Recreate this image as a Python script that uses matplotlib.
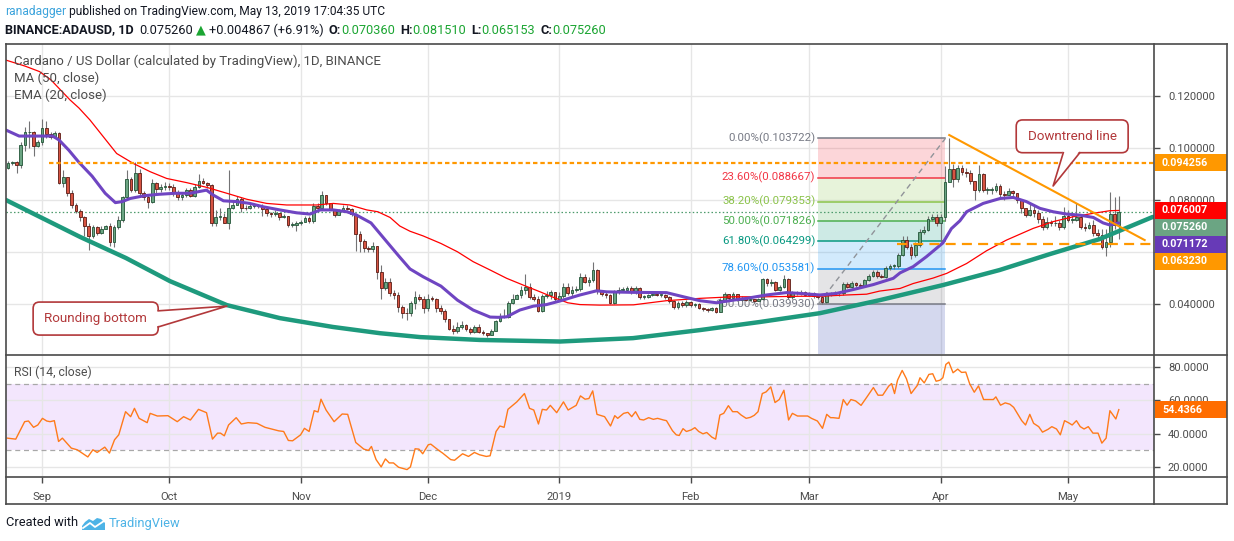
import numpy as np
import matplotlib
matplotlib.use('Agg')
import matplotlib.pyplot as plt
import matplotlib.transforms as mtransforms
from matplotlib.lines import Line2D
from matplotlib.patches import Rectangle, FancyBboxPatch, Polygon

W, H = 1234, 541
plt.rcParams['font.family'] = ['Roboto', 'DejaVu Sans']

# x unit = days, day 0 = 1 Sep 2018
first_day = -8
first_open = 0.0924

close = [
    .0941, .0945, .0933, .1012, .1060, .1060, .1009, .1024, .1076, .1053,
    .1044, .1056, .0864, .0887, .0828, .0780, .0759, .0736, .0701, .0663,
    .0697, .0674, .0687, .0700, .0637, .0697, .0723, .0810, .0881, .0838,
    .0905, .0826, .0813, .0794, .0864, .0841, .0851, .0855, .0851, .0826,
    .0810, .0819, .0839, .0817, .0852, .0873, .0867, .0856, .0710, .0736,
    .0736, .0712, .0768, .0781, .0803, .0769, .0768, .0777, .0780, .0778,
    .0765, .0751, .0746, .0749, .0735, .0738, .0703, .0703, .0710, .0717,
    .0732, .0719, .0777, .0769, .0820, .0788, .0767, .0744, .0756, .0771,
    .0767, .0746, .0669, .0644, .0615, .0612, .0623, .0524, .0460, .0486,
    .0441, .0435, .0387, .0367, .0364, .0403, .0428, .0421, .0384, .0421,
    .0419, .0384, .0374, .0341, .0306, .0297, .0313, .0319, .0303, .0294,
    .0313, .0294, .0287, .0281, .0296, .0335, .0354, .0350, .0403, .0421,
    .0435, .0454, .0467, .0429, .0421, .0374, .0431, .0435, .0446, .0418,
    .0432, .0467, .0441, .0454, .0459, .0505, .0486, .0492, .0531, .0449,
    .0440, .0434, .0405, .0449, .0454, .0454, .0460, .0449, .0462, .0428,
    .0428, .0434, .0438, .0434, .0434, .0428, .0413, .0387, .0403, .0396,
    .0408, .0396, .0400, .0384, .0381, .0377, .0384, .0371, .0415, .0438,
    .0422, .0438, .0415, .0422, .0415, .0418, .0412, .0418, .0495, .0482,
    .0483, .0456, .0464, .0495, .0428, .0444, .0444, .0447, .0435, .0441,
    .0432, .0426, .0409, .0441, .0435, .0444, .0441, .0477, .0467, .0482,
    .0473, .0469, .0492, .0508, .0524, .0508, .0505, .0537, .0546, .0546,
    .0588, .0646, .0621, .0588, .0627, .0678, .0685, .0726, .0736, .0710,
    .0736, .0870, .0918, .0880, .0922, .0909, .0905, .0874, .0838, .0900,
    .0838, .0838, .0838, .0854, .0823, .0819, .0836, .0826, .0800, .0768,
    .0742, .0761, .0749, .0726, .0695, .0717, .0710, .0713, .0697, .0738,
    .0723, .0723, .0736, .0697, .0691, .0704, .0672, .0665, .0621, .0640,
    .0746, .0704, .07526,
]
high = [
    .0950, .0950, .0950, .1025, .1082, .1105, .1065, .1030, .1110, .1105,
    .1060, .1065, .1060, .0915, .0890, .0840, .0790, .0765, .0740, .0710,
    .0705, .0700, .0700, .0705, .0710, .0705, .0740, .0815, .0915, .0890,
    .0947, .0920, .0835, .0820, .0880, .0870, .0860, .0870, .0865, .0860,
    .0840, .0830, .0845, .0845, .0860, .0900, .0885, .0870, .0860, .0760,
    .0770, .0750, .0915, .0800, .0815, .0810, .0780, .0785, .0790, .0785,
    .0785, .0770, .0755, .0760, .0750, .0745, .0740, .0715, .0720, .0725,
    .0740, .0740, .0790, .0790, .0835, .0820, .0790, .0765, .0765, .0780,
    .0780, .0770, .0750, .0680, .0650, .0625, .0640, .0625, .0550, .0500,
    .0500, .0455, .0445, .0395, .0385, .0410, .0450, .0440, .0430, .0440,
    .0430, .0425, .0395, .0380, .0340, .0320, .0330, .0335, .0325, .0310,
    .0320, .0325, .0300, .0290, .0305, .0340, .0365, .0380, .0410, .0440,
    .0440, .0470, .0515, .0480, .0440, .0430, .0440, .0450, .0455, .0445,
    .0445, .0480, .0480, .0470, .0470, .0520, .0515, .0505, .0563, .0535,
    .0455, .0450, .0440, .0455, .0465, .0465, .0470, .0470, .0470, .0465,
    .0435, .0440, .0445, .0445, .0440, .0440, .0430, .0415, .0410, .0410,
    .0415, .0410, .0405, .0405, .0390, .0385, .0390, .0390, .0425, .0445,
    .0440, .0445, .0440, .0430, .0425, .0425, .0420, .0425, .0500, .0500,
    .0495, .0490, .0475, .0510, .0500, .0450, .0450, .0455, .0450, .0445,
    .0445, .0435, .0430, .0445, .0445, .0450, .0445, .0485, .0485, .0490,
    .0485, .0480, .0495, .0515, .0530, .0530, .0515, .0545, .0555, .0555,
    .0595, .0660, .0660, .0630, .0640, .0690, .0700, .0740, .0745, .0745,
    .0745, .0930, .1037, .0940, .0935, .0935, .0925, .0915, .0870, .0935,
    .0905, .0850, .0850, .0865, .0860, .0835, .0845, .0840, .0815, .0805,
    .0770, .0790, .0785, .0760, .0740, .0735, .0725, .0740, .0725, .0775,
    .0760, .0745, .0790, .0745, .0710, .0715, .0725, .0690, .0690, .0690,
    .0830, .0810, .0815,
]
low = [
    .0920, .0935, .0905, .0925, .0990, .1000, .0970, .1005, .1010, .1040,
    .1035, .1040, .0860, .0850, .0815, .0770, .0750, .0720, .0660, .0608,
    .0655, .0665, .0670, .0690, .0625, .0621, .0690, .0715, .0800, .0830,
    .0830, .0820, .0800, .0770, .0790, .0820, .0830, .0840, .0840, .0815,
    .0800, .0800, .0810, .0810, .0810, .0845, .0860, .0845, .0700, .0700,
    .0725, .0710, .0690, .0765, .0780, .0755, .0760, .0765, .0770, .0770,
    .0740, .0740, .0735, .0740, .0725, .0730, .0695, .0695, .0680, .0705,
    .0715, .0710, .0710, .0760, .0765, .0780, .0760, .0735, .0745, .0755,
    .0760, .0740, .0605, .0600, .0600, .0600, .0600, .0495, .0420, .0455,
    .0430, .0420, .0370, .0345, .0340, .0355, .0380, .0410, .0365, .0375,
    .0410, .0370, .0360, .0330, .0300, .0285, .0290, .0305, .0295, .0285,
    .0290, .0290, .0280, .0275, .0280, .0295, .0330, .0345, .0345, .0400,
    .0420, .0425, .0440, .0420, .0410, .0370, .0370, .0425, .0420, .0410,
    .0420, .0425, .0435, .0430, .0445, .0450, .0480, .0470, .0485, .0440,
    .0430, .0425, .0400, .0400, .0440, .0445, .0450, .0440, .0440, .0420,
    .0420, .0425, .0430, .0430, .0428, .0420, .0405, .0380, .0380, .0390,
    .0390, .0390, .0390, .0380, .0375, .0370, .0375, .0365, .0368, .0410,
    .0415, .0415, .0410, .0410, .0410, .0410, .0405, .0410, .0415, .0470,
    .0470, .0450, .0450, .0460, .0420, .0420, .0435, .0435, .0430, .0430,
    .0425, .0420, .0400, .0405, .0430, .0435, .0430, .0435, .0460, .0460,
    .0465, .0460, .0465, .0490, .0505, .0500, .0500, .0500, .0530, .0535,
    .0540, .0585, .0610, .0575, .0580, .0620, .0670, .0680, .0720, .0700,
    .0640, .0720, .0870, .0850, .0870, .0895, .0890, .0860, .0800, .0830,
    .0830, .0825, .0825, .0830, .0810, .0800, .0820, .0815, .0790, .0750,
    .0735, .0740, .0735, .0710, .0685, .0690, .0700, .0700, .0685, .0690,
    .0715, .0710, .0720, .0690, .0680, .0690, .0660, .0650, .0610, .0585,
    .0620, .0690, .0652,
]

# indicator lines (day, value)
ema20_day = [-8.5, -5.4, -0.6, 2.5, 4, 6.3, 8.6, 11.8, 14.9, 17.3, 18.9, 20.8, 24.3, 27.5,
             31.4, 34.9, 38.8, 40.4, 42.8, 45.9, 49, 52.2, 56.1, 60, 63.2, 65.6, 68.7, 71.9,
             74.2, 77.6, 81.3, 84.4, 86.8, 89.9, 94.1, 98, 101.7, 105.7, 107.6, 109.6, 112.7,
             115.9, 119, 122.2, 126.9, 130.8, 133.2, 139.5, 147.3, 151.3, 155.2, 159.1, 163,
             166.2, 170.9, 175.6, 178.8, 183.5, 187.4, 191.4, 196.1, 200.8, 202.4, 205.5,
             208.6, 212.5, 214.5, 216.5, 218.1, 222, 226, 229.1, 232.2, 235.4, 238.5, 241.7,
             244.8, 248, 250.3, 251.9, 254]
ema20_val = [.1069, .1046, .1046, .1046, .1031, .0992, .0947, .0892, .0826, .0790, .0794, .0806,
             .0817, .0822, .0826, .0826, .0838, .0819, .0797, .0794, .0787, .0774, .0762, .0751,
             .0746, .0762, .0762, .0755, .0742, .0712, .0640, .0580, .0535, .0505, .0469, .0415,
             .0377, .0350, .0349, .0351, .0377, .0392, .0398, .0412, .0435, .0451, .0447, .0445,
             .0444, .0428, .0413, .0405, .0415, .0422, .0435, .0444, .0441, .0435, .0441, .0456,
             .0475, .0499, .0520, .0544, .0582, .0635, .0690, .0720, .0755, .0787, .0806, .0810,
             .0794, .0768, .0755, .0746, .0742, .0733, .0712, .0704, .0712]

ma50_day = [-8.5, -4, -0.6, 2.1, 6.6, 8.7, 11.3, 17.6, 21.5, 25.5, 29.4, 34.1, 38.8, 43.6, 48.3,
            53, 57.7, 64.8, 68.7, 72.6, 76.6, 79.2, 82.1, 84.4, 86.8, 89.9, 94.1, 98, 101.7,
            105.7, 109.6, 113.5, 117.5, 120.6, 124, 126.9, 131.6, 139.5, 147.3, 155.2, 163,
            170.9, 178.8, 183.6, 189.8, 194.5, 197.6, 202.4, 205.5, 210.2, 213.4, 218.1, 222.8,
            227.5, 233.8, 238.5, 243.3, 248, 251.9, 254]
ma50_val = [.1338, .1315, .1294, .1262, .1185, .1154, .1108, .0979, .0941, .0909, .0883, .0867,
            .0849, .0826, .0803, .0787, .0781, .0781, .0787, .0781, .0762, .0755, .0733, .0700,
            .0680, .0662, .0633, .0601, .0563, .0531, .0499, .0473, .0447, .0426, .0405, .0398,
            .0396, .0397, .0413, .0422, .0428, .0428, .0430, .0430, .0435, .0438, .0450, .0460,
            .0479, .0500, .0518, .0556, .0605, .0646, .0691, .0717, .0736, .0749, .0759, .0760]

rsi_day = [-8.2, -6.2, -4.1, -3.2, -2.0, -1.0, 0.1, 1.1, 1.9, 2.9, 3.9, 4.8, 6.9, 8.3, 10.8, 12.0,
           13.0, 14.8, 15.9, 17.1, 18.1, 19.7, 20.9, 21.8, 22.9, 24.8, 25.5, 27.2, 29.7, 31.9,
           33.4, 35.0, 36.9, 38.8, 40.2, 41.4, 42.1, 43.0, 44.0, 45.8, 47.0, 48.6, 50.7, 52.6,
           54.4, 55.8, 57.0, 58.1, 59.1, 61.0, 61.9, 63.0, 64.2, 65.1, 65.8, 67.0, 68.9, 70.8,
           72.1, 74.0, 75.9, 77.0, 77.7, 78.8, 80.0, 81.0, 81.9, 82.9, 84.1, 86.1, 86.9, 88.0,
           88.9, 89.8, 91.1, 91.7, 93.6, 94.5, 96.4, 97.3, 99.2, 100.6, 102.0, 103.2, 104.8,
           105.7, 107.1, 108.0, 109.0, 109.9, 112.0, 113.8, 115.0, 116.0, 117.1, 118.0, 119.0,
           119.9, 121.4, 123.0, 124.1, 126.0, 127.0, 128.1, 129.0, 129.9, 130.9, 132.7, 134.1,
           135.1, 135.8, 137.2, 138.2, 139.1, 140.0, 141.0, 141.9, 143.1, 144.2, 145.2, 146.6,
           147.3, 148.7, 149.6, 150.3, 151.2, 152.0, 153.1, 154.0, 154.9, 155.9, 156.8, 158.0,
           158.9, 159.9, 160.8, 161.9, 162.9, 164.0, 164.9, 166.1, 167.1, 168.0, 168.9, 169.9,
           170.8, 171.9, 172.9, 173.9, 175.0, 176.1, 177.0, 178.2, 179.5, 180.6, 181.5, 182.9,
           184.1, 185.1, 186.0, 186.6, 188.0, 189.0, 189.9, 190.8, 191.9, 193.2, 194.6, 196.1,
           197.2, 198.3, 199.7, 200.4, 201.1, 201.8, 202.9, 203.9, 205.0, 206.5, 207.1, 208.1,
           209.2, 210.1, 210.9, 211.8, 212.5, 213.2, 213.9, 214.9, 216.0, 216.9, 217.9, 218.8,
           219.9, 220.9, 222.1, 223.3, 224.4, 225.0, 226.1, 227.2, 228.3, 229.2, 230.2, 231.1,
           232.0, 233.0, 233.9, 235.1, 236.0, 237.3, 238.2, 239.3, 240.2, 241.2, 242.1, 243.0,
           244.0, 244.9, 245.8, 246.8, 247.9, 249.1, 250.0, 251.0, 251.9, 253.3, 254.0]
rsi_val = [37.3, 36.7, 47.2, 47.6, 43.8, 45.2, 49.2, 47.6, 47.2, 47.8, 35.3, 37.3, 31.3, 30.3, 26.0,
           30.3, 28.7, 31.9, 28.3, 36.3, 39.3, 53.2, 50.2, 55.2, 49.2, 46.6, 52.2, 50.6, 50.8, 47.2,
           50.2, 48.2, 54.6, 52.6, 36.7, 40.3, 40.3, 38.7, 45.2, 49.6, 45.8, 46.6, 46.2, 43.8, 42.6,
           41.7, 41.3, 35.9, 35.7, 39.3, 43.2, 41.3, 53.8, 53.0, 60.7, 54.2, 47.2, 51.8, 51.6, 34.7,
           30.7, 29.9, 32.3, 24.4, 20.0, 24.8, 22.4, 22.4, 19.8, 18.4, 20.0, 30.9, 30.7, 27.9, 33.3,
           33.7, 29.9, 28.3, 24.4, 24.0, 27.9, 26.3, 28.7, 27.3, 26.3, 26.7, 41.3, 44.6, 43.8, 54.6,
           59.1, 64.1, 55.2, 54.2, 45.8, 54.6, 54.2, 57.0, 52.6, 59.1, 54.2, 57.0, 62.7, 60.7, 61.1,
           65.7, 51.6, 50.2, 44.6, 50.8, 49.2, 52.2, 52.8, 50.2, 53.2, 48.6, 48.2, 49.6, 48.6, 49.2,
           48.2, 47.8, 41.8, 39.3, 38.9, 43.0, 41.3, 42.2, 43.6, 41.3, 39.9, 40.7, 37.9, 36.7, 51.2,
           52.2, 56.8, 53.2, 53.2, 51.2, 49.2, 49.8, 51.0, 53.2, 64.1, 65.1, 68.1, 58.7, 60.5, 66.1,
           48.2, 52.2, 50.6, 50.6, 50.6, 49.2, 47.6, 43.2, 51.6, 49.6, 49.6, 49.2, 60.5, 57.1, 60.5,
           59.7, 57.0, 62.1, 67.7, 63.1, 63.1, 68.5, 70.1, 64.1, 72.1, 78.0, 73.0, 64.1, 69.1, 73.6,
           70.5, 75.6, 76.0, 71.5, 72.1, 73.6, 81.6, 83.0, 76.6, 78.8, 76.8, 77.0, 70.1, 64.9, 68.7,
           60.5, 60.5, 60.5, 62.1, 57.1, 58.5, 57.7, 55.8, 51.6, 47.8, 45.2, 51.6, 46.2, 44.2, 40.9,
           42.6, 44.2, 42.8, 39.3, 47.8, 46.6, 45.2, 47.8, 44.2, 42.8, 44.2, 40.3, 40.3, 34.3, 37.3,
           53.8, 48.8, 54.4366]

# drawings
bottom_day = [-8.5, 0, 9.0, 19.8, 30.2, 43.6, 56.1, 68.6, 79.7, 89.2, 103.3, 122.2, 139.4,
              155.2, 169.3, 183.5, 197.6, 212.5, 225.9, 237.7, 249.5, 262]
bottom_val = [.0800, .0731, .0658, .0577, .0488, .0396, .0346, .0312, .0288, .0273, .0262,
              .0256, .0269, .0300, .0331, .0365, .0415, .0473, .0531, .0592, .0650, .0735]
downtrend_day = [214, 260.1]
downtrend_val = [.1050, .0646]
resistance = 0.094256
resistance_from = 1.7
support = 0.063230
support_from = 201.6

fib_day = [183.1, 213.1]
fib_pct = ['0.00%', '23.60%', '38.20%', '50.00%', '61.80%', '78.60%', '100.00%']
fib_price = [0.103722, 0.088667, 0.079353, 0.071826, 0.064299, 0.053581, 0.039930]
fib_color = ['#787B86', '#F23645', '#8BC34A', '#4CAF50', '#089981', '#2196F3', '#787B86']

month_day = [0, 30, 61, 91, 122, 153, 181, 212, 242]
month_lbl = ['Sep', 'Oct', 'Nov', 'Dec', '2019', 'Feb', 'Mar', 'Apr', 'May']

last_price = 0.075260
last_ma50 = 0.076007
last_ema20 = 0.071172
last_rsi = 54.4366

# ---------------------------------------------------------------
UP, DOWN = '#6BA583', '#D75442'
UP_EDGE, DOWN_EDGE = '#225437', '#5B1A13'
WICK = '#737375'
GRID = '#E6E6E6'
FRAME = '#4A4A4A'
TXT = '#4D4D4D'
ORANGE = '#FF9800'

fig = plt.figure(figsize=(W / 100, H / 100), dpi=100, facecolor='white')
renderer = fig.canvas.get_renderer()

def fx(x):
    return x / W

def fy(y):
    return 1 - y / H

def width_at10(s, weight='normal'):
    t = fig.text(0, 0, s, fontsize=10, fontweight=weight)
    w = t.get_window_extent(renderer=renderer).width
    t.remove()
    return w

def fit(s, target, weight='normal'):
    # font size that gives the text the width it has in the reference
    return 10 * target / width_at10(s, weight)

FS_HEAD = fit('ranadagger published on TradingView.com, May 13, 2019 17:04:35 UTC', 380)
FS_LEG = fit('Cardano / US Dollar (calculated by TradingView), 1D, BINANCE', 366)
FS_TICK = fit('0.120000', 47)
FS_FIB = fit('23.60%(0.088667)', 93)
FS_BOX = fit('0.094256', 46, 'bold')
FS_CALL = fit('Rounding bottom', 103)
FS_RSI = fit('RSI (14, close)', 78)
FS_FOOT = fit('Created with', 72)

ax = fig.add_axes([fx(6), fy(354), (1154 - 6) / W, (354 - 44) / H])
ar = fig.add_axes([fx(6), fy(477), (1154 - 6) / W, (477 - 355) / H])
XLIM = (-8.5, 262.3)
ax.set_xlim(*XLIM)
ax.set_ylim(0.0208, 0.1400)
ar.set_xlim(*XLIM)
ar.set_ylim(13.94, 87.27)
px_per_price = 310 / (0.1400 - 0.0208)

for a in (ax, ar):
    for s in a.spines.values():
        s.set_visible(False)
    a.set_xticks(month_day)
    a.grid(True, color=GRID, lw=1, zorder=0)
    a.set_axisbelow(True)
    a.yaxis.tick_right()
    a.tick_params(axis='y', length=4, width=1, color=FRAME, pad=6, labelsize=FS_TICK,
                  labelcolor=TXT)

ax.tick_params(axis='x', length=0, labelbottom=False)
ax.set_yticks([0.04, 0.06, 0.08, 0.10, 0.12])
ax.set_yticklabels(['0.040000', '', '0.080000', '0.100000', '0.120000'])
ar.set_yticks([20, 40, 60, 80])
ar.set_yticklabels(['20.0000', '40.0000', '60.0000', '80.0000'])
ar.set_xticklabels(month_lbl)
ar.tick_params(axis='x', length=4, width=1, color=FRAME, pad=7, labelsize=FS_TICK, labelcolor=TXT)

# ---- fib retracement
x0, x1 = fib_day
for i in range(len(fib_price) - 1):
    ax.fill_between([x0, x1], fib_price[i + 1], fib_price[i], color=fib_color[i + 1],
                    alpha=0.2, lw=0, zorder=1)
ax.fill_between([x0, x1], ax.get_ylim()[0], fib_price[-1], color='#3F51B5', alpha=0.22,
                lw=0, zorder=1)
for pct, pr, col in zip(fib_pct, fib_price, fib_color):
    ax.plot([x0, x1], [pr, pr], color=col, lw=1.1, zorder=1.5)
    ax.text(x0 - 0.7, pr, f'{pct}({pr:.6f})', color=col, fontsize=FS_FIB, ha='right',
            va='center', zorder=2)
ax.plot([x0, x1], [fib_price[-1], fib_price[0]], color='#909399', lw=1, ls=(0, (4, 3)), zorder=1.6)

# ---- candles
c = np.array(close)
n = len(c)
days = np.arange(first_day, first_day + n)
o = np.concatenate([[first_open], c[:-1]])
hi = np.maximum(np.array(high[:n]), np.maximum(o, c))
lo = np.minimum(np.array(low[:n]), np.minimum(o, c))
up = c >= o
ax.vlines(days, lo, hi, color=WICK, lw=0.8, zorder=3)
bot = np.minimum(o, c)
hgt = np.maximum(np.abs(c - o), 0.0003)
ax.bar(days[up], hgt[up], bottom=bot[up], width=0.64, color=UP, edgecolor=UP_EDGE, lw=0.6, zorder=3.2)
ax.bar(days[~up], hgt[~up], bottom=bot[~up], width=0.64, color=DOWN, edgecolor=DOWN_EDGE, lw=0.6, zorder=3.2)

# ---- indicators
ax.plot(ma50_day, ma50_val, color='#FF0000', lw=0.9, zorder=4)
ax.plot(ema20_day, ema20_val, color='#6F45C2', lw=2.2, zorder=4.1, solid_capstyle='round')
ax.axhline(last_price, color='#4C9A6B', lw=0.9, ls=(0, (1.2, 1.8)), zorder=2.5)

# ---- drawings
ax.plot(bottom_day, bottom_val, color='#1E9A7D', lw=3.2, zorder=5, solid_capstyle='round',
        solid_joinstyle='round')
ax.plot(downtrend_day, downtrend_val, color=ORANGE, lw=1.5, zorder=5)
ax.plot([resistance_from, XLIM[1]], [resistance, resistance], color=ORANGE, lw=1.6,
        ls=(0, (2, 1.3)), zorder=5)
ax.plot([support_from, XLIM[1]], [support, support], color=ORANGE, lw=1.6,
        ls=(0, (4.5, 2.8)), zorder=5)

# ---- callouts
CALL = '#B2383A'
asp = (1 / px_per_price) / ((XLIM[1] - XLIM[0]) / 1148)

def callout(box, tail_base, tip, text, inside):
    bx0, bx1, by0, by1 = box
    p = FancyBboxPatch((bx0, by0), bx1 - bx0, by1 - by0,
                       boxstyle='round,pad=0,rounding_size=1.5', mutation_aspect=asp,
                       fc='white', ec=CALL, lw=1.2, zorder=6)
    ax.add_patch(p)
    (ax0, ay0), (ax1, ay1) = tail_base
    ax.add_patch(Polygon([inside[0], tip, inside[1]], closed=True, fc='white', ec='none', zorder=6.1))
    ax.plot([ax0, tip[0], ax1], [ay0, tip[1], ay1], color=CALL, lw=1.2, zorder=6.2)
    ax.text((bx0 + bx1) / 2, (by0 + by1) / 2, text, color=CALL, fontsize=FS_CALL,
            ha='center', va='center', zorder=6.3)

callout((-2.1, 27.4, 0.02808, 0.04077), ((27.4, 0.0374), (27.4, 0.0312)), (43.6, 0.0392),
        'Rounding bottom', ((26.6, 0.0374), (26.6, 0.0312)))
callout((229.8, 256.2, 0.0982, 0.1108), ((240.9, 0.0982), (244.8, 0.0982)), (238.5, 0.0854),
        'Downtrend line', ((240.9, 0.0990), (244.8, 0.0990)))

# ---- price scale labels (stacked like TradingView)
box_w = 72 / 1148
trans_p = mtransforms.blended_transform_factory(ax.transAxes, ax.transData)
box_h = 17 / px_per_price
prev = None
for val, col in [(resistance, ORANGE), (last_ma50, '#FF0000'), (last_price, UP),
                 (last_ema20, '#673AB7'), (support, ORANGE)]:
    yc = val
    if prev is not None and prev - yc < box_h:
        yc = prev - box_h
    prev = yc
    ax.add_patch(Rectangle((1.0005, yc - box_h / 2), box_w, box_h, transform=trans_p,
                           fc=col, ec='none', clip_on=False, zorder=10))
    ax.text(1 + 8 / 1148, yc, f'{val:.6f}', transform=trans_p, color='white', fontsize=FS_BOX,
            fontweight='bold', va='center', ha='left', zorder=11, clip_on=False)

# ---- RSI
ar.axhspan(30, 70, color='#F3E6FD', zorder=0.5, lw=0)
for lvl in (30, 70):
    ar.axhline(lvl, color='#A8A8A8', lw=0.9, ls=(0, (4, 3)), zorder=1)
ar.plot(rsi_day, rsi_val, color='#FF7A1A', lw=1.0, zorder=3)
trans_r = mtransforms.blended_transform_factory(ar.transAxes, ar.transData)
rh = 17 / (122 / (87.27 - 13.94))
ar.add_patch(Rectangle((1.0005, last_rsi - rh / 2), box_w, rh, transform=trans_r,
                       fc='#FF6D00', ec='none', clip_on=False, zorder=10))
ar.text(1 + 8 / 1148, last_rsi, f'{last_rsi:.4f}', transform=trans_r, color='white',
        fontsize=FS_BOX, fontweight='bold', va='center', ha='left', zorder=11, clip_on=False)

# ---- frame
def fline(xa, ya, xb, yb):
    fig.add_artist(Line2D([fx(xa), fx(xb)], [fy(ya), fy(yb)], transform=fig.transFigure,
                          color=FRAME, lw=1.2))

fline(6, 44, 1227, 44)
fline(6, 504, 1227, 504)
fline(6, 44, 6, 504)
fline(1227, 44, 1227, 504)
fline(1154, 44, 1154, 504)
fline(6, 354.5, 1227, 354.5)
fline(6, 477, 1227, 477)

# ---- texts
def chain(x, y, pieces, size=None, target=None):
    if target is not None:
        # scale the whole run so it spans the width it has in the reference
        gaps = sum(p[3] for p in pieces)
        tot = sum(width_at10(p[0], p[2]) for p in pieces)
        size = 10 * (target - gaps) / tot
    for s, col, wt, gap in pieces:
        t = fig.text(fx(x), fy(y), s, color=col, fontweight=wt, fontsize=size,
                     ha='left', va='center')
        x += t.get_window_extent(renderer=renderer).width + gap

BLK = '#131722'
GRN = '#1BA532'
chain(5, 12, [('ranadagger', '#3BA3DC', 'normal', 3),
              ('published on TradingView.com, May 13, 2019 17:04:35 UTC', BLK, 'normal', 0)],
      size=FS_HEAD)
chain(5, 30, [('BINANCE:ADAUSD, 1D', BLK, 'bold', 6), ('0.075260', BLK, 'normal', 3),
              ('\u25B2', GRN, 'normal', 3), ('+0.004867 (+6.91%)', BLK, 'normal', 5),
              ('O:', BLK, 'bold', 0), ('0.070360', GRN, 'normal', 5),
              ('H:', BLK, 'bold', 0), ('0.081510', GRN, 'normal', 5),
              ('L:', BLK, 'bold', 0), ('0.065153', GRN, 'normal', 5),
              ('C:', BLK, 'bold', 0), ('0.075260', GRN, 'normal', 0)], target=597)

for yy, s, fs in [(61, 'Cardano / US Dollar (calculated by TradingView), 1D, BINANCE', FS_LEG),
                  (78, 'MA (50, close)', FS_LEG), (95, 'EMA (20, close)', FS_LEG),
                  (372, 'RSI (14, close)', FS_RSI)]:
    fig.text(fx(14), fy(yy), s, color=TXT, fontsize=fs, ha='left', va='center')

chain(6, 523, [('Created with', BLK, 'normal', 31), ('TradingView', '#4DB3E6', 'normal', 0)],
      size=FS_FOOT)
cloud = [(82, 530), (82, 526), (85, 522), (89, 519), (93, 521), (97, 518), (101, 519),
         (105, 523), (105, 530)]
fig.add_artist(Polygon([(fx(a), fy(b)) for a, b in cloud], closed=True, transform=fig.transFigure,
                       fc='#4DB3E6', ec='none'))
fig.add_artist(Line2D([fx(a) for a in (83, 90, 95, 104)], [fy(b) for b in (528, 523, 527, 521)],
                      transform=fig.transFigure, color='white', lw=1.3))

fig.savefig('out.png', dpi=100, facecolor='white')
